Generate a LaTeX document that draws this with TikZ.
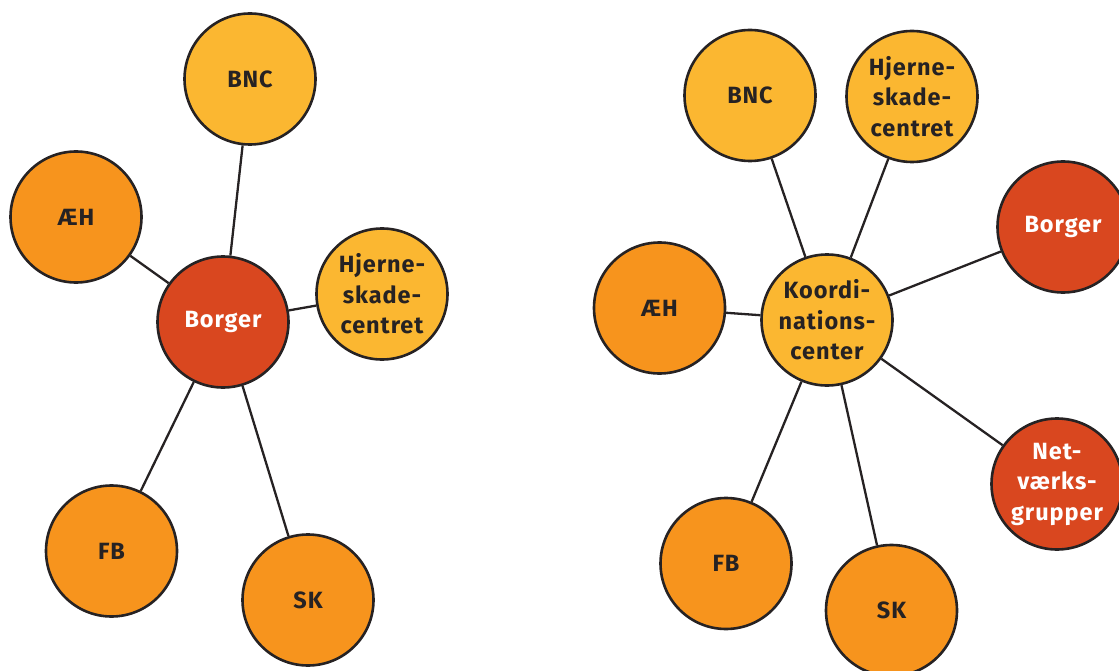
\documentclass[tikz,border=0pt]{standalone}
\usepackage{fontspec}
\setmainfont{Fira Sans}
\definecolor{cyellow}{HTML}{FBB731}
\definecolor{corange}{HTML}{F7941D}
\definecolor{cred}{HTML}{D9471F}
\definecolor{cink}{HTML}{262223}
\begin{document}
\begin{tikzpicture}[x=1pt,y=-1pt,
  bub/.style={circle,draw=cink,line width=2.6pt,minimum size=131pt,inner sep=0pt,
    align=center,text=cink,font=\fontsize{23.5}{30.5}\selectfont\bfseries\addfontfeatures{LetterSpace=4}},
  yel/.style={bub,fill=cyellow},
  ora/.style={bub,fill=corange},
  rd/.style={bub,fill=cred,text=white},
  link/.style={draw=cink,line width=2.3pt}]
\useasboundingbox (0,0) rectangle (1119,671);
% left diagram
\node[rd]  (lb)  at (223,322) {Borger};
\node[yel] (lbnc) at (250,79) {BNC};
\node[ora] (lae) at (76,217) {ÆH};
\node[yel] (lhj) at (382,294) {Hjerne-\\skade-\\centret};
\node[ora] (lfb) at (111.5,551) {FB};
\node[ora] (lsk) at (308,600) {SK};
\draw[link] (lb) -- (lbnc);
\draw[link] (lb) -- (lae);
\draw[link] (lb) -- (lhj);
\draw[link] (lb) -- (lfb);
\draw[link] (lb) -- (lsk);
% right diagram
\node[yel] (rk) at (827,320) {Koordi-\\nations-\\center};
\node[yel] (rbnc) at (750,95.5) {BNC};
\node[yel] (rhj) at (912,96.5) {Hjerne-\\skade-\\centret};
\node[rd]  (rb) at (1063,227) {Borger};
\node[ora] (rae) at (659.5,308) {ÆH};
\node[rd]  (rnet) at (1057,484) {Net-\\værks-\\grupper};
\node[ora] (rfb) at (726,563.5) {FB};
\node[ora] (rsk) at (891.5,610.5) {SK};
\draw[link] (rk) -- (rbnc);
\draw[link] (rk) -- (rhj);
\draw[link] (rk) -- (rb);
\draw[link] (rk) -- (rae);
\draw[link] (rk) -- (rnet);
\draw[link] (rk) -- (rfb);
\draw[link] (rk) -- (rsk);
\end{tikzpicture}
\end{document}
